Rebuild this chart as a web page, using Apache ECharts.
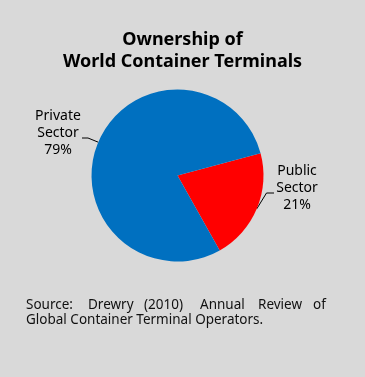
<!DOCTYPE html>
<html>
<head>
<meta charset="utf-8">
<script src="https://cdn.jsdelivr.net/npm/echarts@6/dist/echarts.min.js"></script>
<style>
html,body{margin:0;padding:0;background:#d9d9d9;}
#c{width:365px;height:377px;}
</style>
</head>
<body>
<div id="c"></div>
<script>
var categories = ['Public Sector', 'Private Sector'];
var values = [21, 79];
var sliceColors = ['#ff0000', '#0070c0'];
var titleText = 'Ownership of\nWorld Container Terminals';
var sourceLine1 = ['Source:', 'Drewry', '(2010)', 'Annual', 'Review', 'of'];
var sourceLine2 = 'Global Container Terminal Operators.';

var FONT = '"Noto Sans", "DejaVu Sans", sans-serif';
var chart = echarts.init(document.getElementById('c'), null, {renderer: 'canvas'});

var wordX = [26, 88, 144, 200, 258, 313];
var graphics = sourceLine1.map(function (w, i) {
  return {
    type: 'text', left: wordX[i], top: 298,
    style: {text: w, font: '13.5px ' + FONT, fill: '#111'}
  };
});
graphics.push({
  type: 'text', left: 26, top: 313,
  style: {text: sourceLine2, font: '13.5px ' + FONT, fill: '#111'}
});

var labelPos = {
  'Private Sector': {x: 58, y: 133, mid: [88, 138], end: [82, 138]},
  'Public Sector': {x: 297, y: 188, mid: [266.5, 193], end: [274, 193]}
};

chart.setOption({
  backgroundColor: '#d9d9d9',
  animation: false,
  title: {
    text: titleText,
    left: 'center',
    top: 24,
    textStyle: {fontFamily: FONT, fontSize: 18, fontWeight: 'bold', color: '#000', lineHeight: 22}
  },
  graphic: graphics,
  series: [{
    type: 'pie',
    center: [177.5, 175.5],
    radius: 86,
    startAngle: 15,
    clockwise: true,
    silent: true,
    data: categories.map(function (c, i) {
      return {name: c, value: values[i], itemStyle: {color: sliceColors[i]}};
    }),
    label: {
      show: true,
      position: 'outside',
      fontFamily: FONT,
      fontSize: 14,
      lineHeight: 17,
      color: '#000',
      align: 'center',
      formatter: function (p) {
        return p.name.replace(' ', '\n') + '\n' + Math.round(p.percent) + '%';
      }
    },
    labelLine: {show: true, length: 10, length2: 8, lineStyle: {color: '#000', width: 1}},
    labelLayout: function (params) {
      var lp = labelPos[params.text.indexOf('Private') === 0 ? 'Private Sector' : 'Public Sector'];
      var anchor = params.labelLinePoints ? params.labelLinePoints[0] : null;
      var res = {x: lp.x, y: lp.y, align: 'center', verticalAlign: 'middle'};
      if (anchor) res.labelLinePoints = [anchor, lp.mid, lp.end];
      return res;
    }
  }]
});
</script>
</body>
</html>
